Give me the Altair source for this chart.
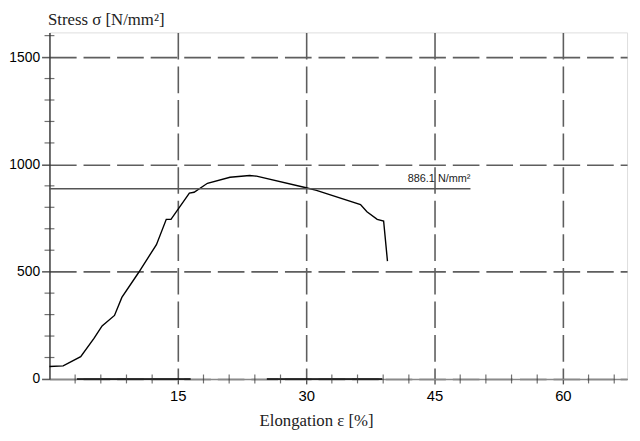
import altair as alt
import pandas as pd

# stress-strain curve
eps = [0, 1.6, 3.65, 5.2, 6.15, 7.6, 8.46, 10.4, 12.5, 13.65, 14.2, 16.35, 16.9,
       18.46, 21.1, 23.4, 24.2, 30.0, 31.2, 36.35, 37.1, 38.3, 39.05, 39.5]
sigma = [58, 61, 104, 189, 247, 296, 380, 495, 626, 744, 744, 866, 870,
         912, 940, 948, 945, 891, 879, 813, 779, 744, 736, 549]

# zero-stress trace segments along the x axis
zero_start = [3.2, 25.4]
zero_end = [16.5, 38.9]

# marked stress level
level = [886.1]
level_end = [49.2]
level_label = ["886.1 N/mm²"]

x_major = [15, 30, 45, 60]
y_major = [0, 500, 1000, 1500]
x_minor = [3, 6, 9, 12, 18, 21, 24, 27, 33, 36, 39, 42, 48, 51, 54, 57, 63, 66]
y_minor = [100, 200, 300, 400, 600, 700, 800, 900, 1100, 1200, 1300, 1400, 1600]

X_DOMAIN = [0, 67.5]
Y_DOMAIN = [0, 1615]

xs = alt.Scale(domain=X_DOMAIN, nice=False, zero=False)
ys = alt.Scale(domain=Y_DOMAIN, nice=False, zero=False)

x_axis = alt.Axis(
    title="Elongation ε [%]", values=x_major, format="d",
    grid=True, gridDash=[27, 7], gridColor="#5e5e5e", gridWidth=1.6,
    domainColor="#8a8a8a", domainWidth=1.6,
    tickSize=5, tickColor="#555", tickWidth=1.4,
    labelFont="Liberation Sans", labelFontSize=15, labelColor="black",
    labelPadding=5,
    titleFont="Liberation Serif", titleFontSize=17, titleFontWeight="normal",
    titleColor="#222", titleX=270, titleY=42, titleBaseline="middle",
    titleAlign="center")
y_axis = alt.Axis(
    title="Stress σ [N/mm²]", values=y_major, format="d",
    grid=True, gridDash=[27, 7], gridColor="#5e5e5e", gridWidth=1.6,
    domainColor="#333", domainWidth=1.4,
    tickSize=8, tickColor="#5e5e5e", tickWidth=1.6,
    labelFont="Liberation Sans", labelFontSize=14, labelColor="black",
    labelPadding=2,
    titleFont="Liberation Serif", titleFontSize=17, titleFontWeight="normal",
    titleColor="#222", titleAngle=0, titleX=-2, titleY=-13,
    titleAlign="left", titleBaseline="middle")


def X(f):
    return alt.X(f, scale=xs, axis=x_axis)


def Y(f):
    return alt.Y(f, scale=ys, axis=y_axis)


curve_df = pd.DataFrame({"e": eps, "s": sigma})
curve = alt.Chart(curve_df).mark_line(color="black", strokeWidth=1.4).encode(
    x=X("e:Q"), y=Y("s:Q"), order=alt.Order("e:Q"),
)

xminor_df = pd.DataFrame({"e": x_minor, "s": [0] * len(x_minor)})
xminor = alt.Chart(xminor_df).mark_tick(orient="vertical", size=9, thickness=1.2, color="#333").encode(
    x=X("e:Q"), y=Y("s:Q"),
)

yminor_df = pd.DataFrame({"e": [0] * len(y_minor), "s": y_minor})
yminor = alt.Chart(yminor_df).mark_tick(orient="horizontal", size=10, thickness=1.2, color="#333").encode(
    x=X("e:Q"), y=Y("s:Q"),
)

zero_df = pd.DataFrame({"e": zero_start, "b": zero_end, "s": [0] * len(zero_start)})
zero = alt.Chart(zero_df).mark_rule(color="black", strokeWidth=1.6).encode(
    x=X("e:Q"), x2="b:Q", y=Y("s:Q"),
)

level_df = pd.DataFrame({"s": level, "e": [0], "x1": level_end, "t": level_label})
level_line = alt.Chart(level_df).mark_rule(color="#555", strokeWidth=1.5).encode(
    x=X("e:Q"), x2="x1:Q", y=Y("s:Q"),
)
level_text = alt.Chart(level_df).mark_text(
    align="right", baseline="bottom", dy=-5, font="Liberation Sans",
    fontSize=11, color="#222").encode(
    x=X("x1:Q"), y=Y("s:Q"), text="t:N",
)

chart = alt.layer(curve, level_line, level_text, zero, xminor, yminor).properties(
    width=585, height=351,
    autosize=alt.AutoSizeParams(type="none"),
    padding={"left": 42, "top": 22, "right": 5, "bottom": 52},
).configure_view(stroke=None).configure(background="white")

chart.save("out.html", embed_options={"renderer": "svg", "actions": False})
